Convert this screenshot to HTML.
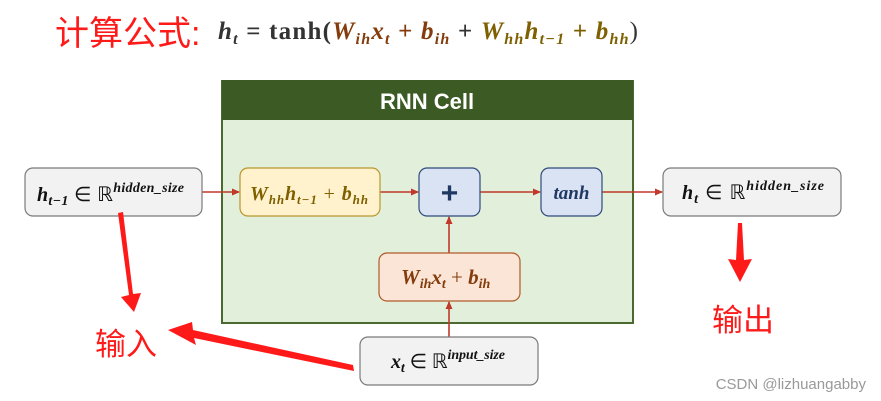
<!DOCTYPE html>
<html><head><meta charset="utf-8"><style>
body{margin:0;background:#fff;}
svg{display:block}
.m{font-family:"Liberation Serif",serif;font-weight:bold;font-style:italic}
</style></head><body>
<svg width="881" height="401" viewBox="0 0 881 401" xmlns="http://www.w3.org/2000/svg">
<defs>
<marker id="a" markerWidth="8" markerHeight="8" refX="7" refY="4" orient="auto" markerUnits="userSpaceOnUse"><path d="M0,0.5 L8,4 L0,7.5z" fill="#c0392b"/></marker>
</defs>
<text x="55" y="45" font-family="'Liberation Sans','Noto Sans CJK SC',sans-serif" font-size="34" fill="#ff1a1a">计算公式:</text>
<text x="218" y="39" textLength="420" lengthAdjust="spacing" font-family="'Liberation Serif',serif" font-size="25" font-weight="bold" fill="#333"><tspan font-style="italic">h</tspan><tspan font-size="16" dy="5" font-style="italic">t</tspan><tspan dy="-5"> = tanh(</tspan><tspan fill="#843c0c" font-style="italic">W</tspan><tspan fill="#843c0c" font-size="16" dy="5" font-style="italic">ih</tspan><tspan fill="#843c0c" dy="-5" font-style="italic">x</tspan><tspan fill="#843c0c" font-size="16" dy="5" font-style="italic">t</tspan><tspan fill="#843c0c" dy="-5"> + </tspan><tspan fill="#843c0c" font-style="italic">b</tspan><tspan fill="#843c0c" font-size="16" dy="5" font-style="italic">ih</tspan><tspan dy="-5"> + </tspan><tspan fill="#7f6000" font-style="italic">W</tspan><tspan fill="#7f6000" font-size="16" dy="5" font-style="italic">hh</tspan><tspan fill="#7f6000" dy="-5" font-style="italic">h</tspan><tspan fill="#7f6000" font-size="16" dy="5" font-style="italic">t−1</tspan><tspan fill="#7f6000" dy="-5"> + </tspan><tspan fill="#7f6000" font-style="italic">b</tspan><tspan fill="#7f6000" font-size="16" dy="5" font-style="italic">hh</tspan><tspan dy="-5" font-weight="normal">)</tspan></text>
<rect x="222" y="81" width="411" height="242" fill="#e2efda" stroke="#4a6a30" stroke-width="2"/>
<rect x="222" y="80" width="411" height="40" fill="#3c5a24"/>
<text x="427" y="109" text-anchor="middle" font-family="'Liberation Sans',sans-serif" font-weight="bold" font-size="22" fill="#fff">RNN Cell</text>
<g stroke="#c0392b" stroke-width="1.6" fill="none">
<line x1="202" y1="192" x2="239" y2="192" marker-end="url(#a)"/>
<line x1="380" y1="192" x2="418" y2="192" marker-end="url(#a)"/>
<line x1="480" y1="192" x2="540" y2="192" marker-end="url(#a)"/>
<line x1="602" y1="192" x2="662" y2="192" marker-end="url(#a)"/>
<line x1="449" y1="253" x2="449" y2="217" marker-end="url(#a)"/>
<line x1="449" y1="337" x2="449" y2="302" marker-end="url(#a)"/>
</g>
<rect x="25" y="168" width="177" height="48" rx="8" fill="#f2f2f2" stroke="#7a7a7a" stroke-width="1.2"/>
<rect x="240" y="168" width="140" height="48" rx="8" fill="#fff2cc" stroke="#b8962e" stroke-width="1.2"/>
<rect x="419" y="168" width="61" height="48" rx="8" fill="#dae3f3" stroke="#2f4a7a" stroke-width="1.2"/>
<rect x="541" y="168" width="61" height="48" rx="8" fill="#dae3f3" stroke="#2f4a7a" stroke-width="1.2"/>
<rect x="663" y="168" width="178" height="48" rx="8" fill="#f2f2f2" stroke="#7a7a7a" stroke-width="1.2"/>
<rect x="379" y="253" width="141" height="48" rx="8" fill="#fbe5d6" stroke="#b05a2c" stroke-width="1.2"/>
<rect x="360" y="337" width="178" height="48" rx="8" fill="#f2f2f2" stroke="#7a7a7a" stroke-width="1.2"/>
<text x="37" y="201" textLength="147" lengthAdjust="spacing" class="m" font-size="20" fill="#111">h<tspan font-size="14" dy="4">t−1</tspan><tspan dy="-4" font-style="normal" font-weight="normal"> ∈ ℝ</tspan><tspan font-size="14" dy="-9">hidden_size</tspan></text>
<text x="250" y="200" textLength="118" lengthAdjust="spacing" class="m" font-size="20" fill="#7f6000">W<tspan font-size="13" dy="4">hh</tspan><tspan dy="-4">h</tspan><tspan font-size="13" dy="4">t−1</tspan><tspan dy="-4" font-style="normal" font-weight="normal"> + </tspan>b<tspan font-size="13" dy="4">hh</tspan></text>
<text x="449.5" y="203" text-anchor="middle" font-family="'Liberation Sans',sans-serif" font-weight="bold" font-size="30" fill="#1f3864">+</text>
<text x="571.5" y="199" text-anchor="middle" class="m" font-size="19" fill="#1f3864">tanh</text>
<text x="682" y="199" textLength="142" lengthAdjust="spacing" class="m" font-size="20" fill="#111">h<tspan font-size="14" dy="4">t</tspan><tspan dy="-4" font-style="normal" font-weight="normal"> ∈ ℝ</tspan><tspan font-size="14" dy="-9">hidden_size</tspan></text>
<text x="401" y="284" class="m" font-size="21" fill="#843c0c">W<tspan font-size="14" dy="4">ih</tspan><tspan dy="-4">x</tspan><tspan font-size="14" dy="4">t</tspan><tspan dy="-4" font-style="normal" font-weight="normal"> + </tspan>b<tspan font-size="14" dy="4">ih</tspan></text>
<text x="391" y="368" textLength="114" lengthAdjust="spacing" class="m" font-size="20" fill="#111">x<tspan font-size="14" dy="4">t</tspan><tspan dy="-4" font-style="normal" font-weight="normal"> ∈ ℝ</tspan><tspan font-size="14" dy="-9">input_size</tspan></text>
<g fill="#ff1a1a">
<polygon points="118,213 123,212 133,294 141,293 134,312 121,297 129,295"/>
<polygon points="353,365 354,371 194,338 196,345 168,330 192,322 193,330"/>
<polygon points="738,223 742,223 744,260 752,259 740,282 728,259 736,260"/>
</g>
<text x="95" y="355" font-family="'Liberation Sans','Noto Sans CJK SC',sans-serif" font-size="31" fill="#ff1a1a">输入</text>
<text x="712" y="331" font-family="'Liberation Sans','Noto Sans CJK SC',sans-serif" font-size="31" fill="#ff1a1a">输出</text>
<text x="866" y="389" text-anchor="end" font-family="'Liberation Sans',sans-serif" font-size="15" fill="#999">CSDN @lizhuangabby</text>
</svg>
</body></html>
